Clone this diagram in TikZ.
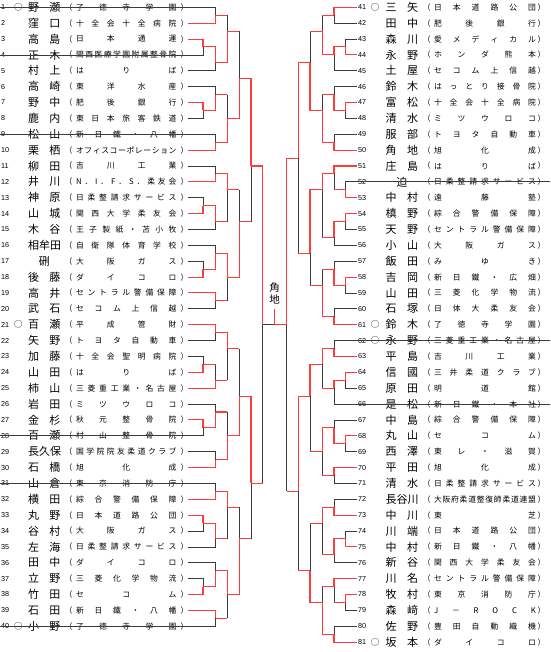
\documentclass[tikz,border=0pt]{standalone}
\usepackage{fontspec}
\setmainfont{Noto Sans CJK JP}
\newfontfamily\numfont{Liberation Sans}
\pgfdeclarelayer{fg}
\pgfsetlayers{main,fg}
\definecolor{wincol}{RGB}{255,60,60}
\definecolor{losecol}{RGB}{60,60,60}
\def\sprd#1#2\relax{#1\ifx\relax#2\relax\else\hfill\sprd#2\relax\fi}
\tikzset{
  wl/.style={draw=wincol,line width=1.05pt},
  ll/.style={draw=losecol,line width=0.75pt},
  numsty/.style={font=\numfont\fontsize{7.2}{8}\selectfont,anchor=west,inner sep=0pt},
  marksty/.style={font=\fontsize{8.5}{9}\selectfont,inner sep=0pt},
  namesty/.style={font=\fontsize{11}{12}\selectfont,inner sep=0pt},
  affsty/.style={font=\fontsize{7.8}{9}\selectfont,inner sep=0pt},
  parsty/.style={font=\fontsize{7.8}{9}\selectfont,inner sep=0pt,anchor=west},
}
\newcommand\Win[2]{\begin{pgfonlayer}{fg}\draw[wl] (#1) -- (#1 -| #2) -- (#2);\end{pgfonlayer}}
\newcommand\Lose[2]{\draw[ll] (#1) -- (#1 -| #2) -- (#2);}
\newcommand\MLose[2]{\begin{pgfonlayer}{fg}\draw[wl] (#1) -- (#1 -| #2);\end{pgfonlayer}\draw[ll] (#1 -| #2) -- (#2);}
\newcommand\Lrow[4]{%
  \node[numsty] (ln#1) at (1,{ry(#1)}) {#1};
  \node[marksty] (lm#1) at (18.3,{ry(#1)}) {#2};
  \node[namesty] (lnm#1) at (44.25,{ry(#1)}) {\hbox to 32.5pt{\sprd#3\relax}};
  \node[parsty] (lpo#1) at (64.4,{ry(#1)}) {（};
  \node[affsty] (laf#1) at (126.25,{ry(#1)}) {\hbox to 100.5pt{\sprd#4\relax}};
  \node[parsty] (lpc#1) at (180.3,{ry(#1)}) {）};
}
\newcommand\Rrow[5]{%
  \node[numsty] (rn#1) at (358,{ry(#2)}) {#1};
  \node[marksty] (rm#1) at (375,{ry(#2)}) {#3};
  \node[namesty] (rnm#1) at (401.75,{ry(#2)}) {\hbox to 32.5pt{\sprd#4\relax}};
  \node[parsty] (rpo#1) at (422.7,{ry(#2)}) {（};
  \node[affsty] (raf#1) at (485,{ry(#2)}) {\hbox to 102pt{\sprd#5\relax}};
  \node[parsty] (rpc#1) at (537.3,{ry(#2)}) {）};
}
\def\xLz{203}\def\xLa{215.5}\def\xLb{227.3}\def\xLc{239.3}\def\xLd{251}\def\xLe{262.7}\def\xC{274.5}
\def\xRe{286.7}\def\xRd{298.3}\def\xRc{310}\def\xRb{322.3}\def\xRa{334}\def\xRz{345.7}
\begin{document}
\begin{tikzpicture}[x=1pt,y=-1pt,declare function={ry(\r)=7.3+(\r-1)*15.87;}]
\useasboundingbox (0,0) rectangle (550,652);
\fill[white] (0,0) rectangle (550,652);
% ---------------- left entries
\Lrow{1}{○}{野瀬}{了徳寺学園}
\Lrow{2}{}{窪口}{十全会十全病院}
\Lrow{3}{}{高島}{日本通運}
\Lrow{4}{}{正木}{関西医療学園附属整骨院}
\Lrow{5}{}{村上}{はりば}
\Lrow{6}{}{高崎}{東洋水産}
\Lrow{7}{}{野中}{肥後銀行}
\Lrow{8}{}{鹿内}{東日本旅客鉄道}
\Lrow{9}{}{松山}{新日鐵・八幡}
\Lrow{10}{}{栗栖}{オフィスコーポレーション}
\Lrow{11}{}{柳田}{吉川工業}
\Lrow{12}{}{井川}{N．I．F．S．柔友会}
\Lrow{13}{}{神原}{日柔整請求サービス}
\Lrow{14}{}{山城}{関西大学柔友会}
\Lrow{15}{}{木谷}{王子製紙・苫小牧}
\Lrow{16}{}{相牟田}{自衛隊体育学校}
\Lrow{17}{}{\hfill 硎\hfill}{大阪ガス}
\Lrow{18}{}{後藤}{ダイコロ}
\Lrow{19}{}{高井}{セントラル警備保障}
\Lrow{20}{}{武石}{セコム上信越}
\Lrow{21}{○}{百瀬}{平成管財}
\Lrow{22}{}{矢野}{トヨタ自動車}
\Lrow{23}{}{加藤}{十全会聖明病院}
\Lrow{24}{}{山田}{はりば}
\Lrow{25}{}{柿山}{三菱重工業・名古屋}
\Lrow{26}{}{岩田}{ミツウロコ}
\Lrow{27}{}{金杉}{秋元整骨院}
\Lrow{28}{}{百瀬}{村山整骨院}
\Lrow{29}{}{長久保}{国学院院友柔道クラブ}
\Lrow{30}{}{石橋}{旭化成}
\Lrow{31}{}{山倉}{東京消防庁}
\Lrow{32}{}{横田}{綜合警備保障}
\Lrow{33}{}{丸野}{日本道路公団}
\Lrow{34}{}{谷村}{大阪ガス}
\Lrow{35}{}{左海}{日柔整請求サービス}
\Lrow{36}{}{田中}{ダイコロ}
\Lrow{37}{}{立野}{三菱化学物流}
\Lrow{38}{}{竹田}{セコム}
\Lrow{39}{}{石田}{新日鐵・八幡}
\Lrow{40}{○}{小野}{了徳寺学園}
% ---------------- right entries
\Rrow{41}{1}{○}{三矢}{日本道路公団}
\Rrow{42}{2}{}{田中}{肥後銀行}
\Rrow{43}{3}{}{森川}{愛メディカル}
\Rrow{44}{4}{}{永野}{ホンダ熊本}
\Rrow{45}{5}{}{土屋}{セコム上信越}
\Rrow{46}{6}{}{鈴木}{はっとり接骨院}
\Rrow{47}{7}{}{富松}{十全会十全病院}
\Rrow{48}{8}{}{清水}{ミツウロコ}
\Rrow{49}{9}{}{服部}{トヨタ自動車}
\Rrow{50}{10}{}{角地}{旭化成}
\Rrow{51}{11}{}{庄島}{はりば}
\Rrow{52}{12}{}{\hfill 迫\hfill}{日柔整請求サービス}
\Rrow{53}{13}{}{中村}{遠藤塾}
\Rrow{54}{14}{}{槙野}{綜合警備保障}
\Rrow{55}{15}{}{天野}{セントラル警備保障}
\Rrow{56}{16}{}{小山}{大阪ガス}
\Rrow{57}{17}{}{飯田}{みゆき}
\Rrow{58}{18}{}{吉岡}{新日鐵・広畑}
\Rrow{59}{19}{}{山田}{三菱化学物流}
\Rrow{60}{20}{}{石塚}{日体大柔友会}
\Rrow{61}{21}{○}{鈴木}{了徳寺学園}
\Rrow{62}{22}{○}{永野}{三菱重工業・名古屋}
\Rrow{63}{23}{}{平島}{吉川工業}
\Rrow{64}{24}{}{信國}{三井柔道クラブ}
\Rrow{65}{25}{}{原田}{明道館}
\Rrow{66}{26}{}{是松}{新日鐵・本社}
\Rrow{67}{27}{}{中島}{綜合警備保障}
\Rrow{68}{28}{}{丸山}{セコム}
\Rrow{69}{29}{}{西澤}{東レ・滋賀}
\Rrow{70}{30}{}{平田}{旭化成}
\Rrow{71}{31}{}{清水}{日柔整請求サービス}
\Rrow{72}{32}{}{長谷川}{大阪府柔道整復師柔道連盟}
\Rrow{73}{33}{}{中川}{東芝}
\Rrow{74}{34}{}{川端}{日本道路公団}
\Rrow{75}{35}{}{中村}{新日鐵・八幡}
\Rrow{76}{36}{}{新谷}{関西大学柔友会}
\Rrow{77}{37}{}{川名}{セントラル警備保障}
\Rrow{78}{38}{}{牧村}{東京消防庁}
\Rrow{79}{39}{}{森﨑}{J－ROCK}
\Rrow{80}{40}{}{佐野}{豊田自動織機}
\Rrow{81}{41}{○}{坂本}{ダイコロ}
% ---------------- leaf coordinates
\foreach \i in {1,...,40} \coordinate (a\i) at (188,{ry(\i)});
\foreach \i in {1,4,9,28,31,40} \coordinate (a\i) at (0,{ry(\i)});
\foreach \k in {41,...,81} \coordinate (b\k) at (357,{ry(\k-40)});
\foreach \k in {52,62,66} \coordinate (b\k) at (550,{ry(\k-40)});
% ---------------- left bracket
\coordinate (g1A) at (\xLa,{ry(1.5)});\coordinate (g1B) at (\xLz,{ry(3.5)});
\coordinate (g1C) at (\xLa,{ry(4.5)});\coordinate (g1D) at (\xLb,{ry(2.5)});
\Lose{a1}{g1A}\Win{a2}{g1A}\Win{a3}{g1B}\Lose{a4}{g1B}\Win{g1B}{g1C}\Lose{a5}{g1C}\MLose{g1A}{g1D}\Win{g1C}{g1D}
\coordinate (g2E) at (\xLz,{ry(7.5)});\coordinate (g2F) at (\xLa,{ry(6.5)});
\coordinate (g2G) at (\xLa,{ry(9.5)});\coordinate (g2H) at (\xLb,{ry(8)});
\Lose{a6}{g2F}\Win{a7}{g2E}\Lose{a8}{g2E}\Win{g2E}{g2F}\Lose{a9}{g2G}\Win{a10}{g2G}\MLose{g2F}{g2H}\Win{g2G}{g2H}
\coordinate (i12) at (\xLc,{ry(5.5)});
\MLose{g1D}{i12}\Win{g2H}{i12}
\coordinate (g3A) at (\xLa,{ry(11.5)});\coordinate (g3B) at (\xLz,{ry(13.5)});
\coordinate (g3C) at (\xLa,{ry(14.5)});\coordinate (g3D) at (\xLb,{ry(12.5)});
\Lose{a11}{g3A}\Win{a12}{g3A}\Lose{a13}{g3B}\Win{a14}{g3B}\Win{g3B}{g3C}\Lose{a15}{g3C}\Win{g3A}{g3D}\MLose{g3C}{g3D}
\coordinate (g4E) at (\xLz,{ry(17.5)});\coordinate (g4F) at (\xLa,{ry(16.5)});
\coordinate (g4G) at (\xLa,{ry(19.5)});\coordinate (g4H) at (\xLb,{ry(18)});
\Lose{a16}{g4F}\Lose{a17}{g4E}\Win{a18}{g4E}\Win{g4E}{g4F}\Win{a19}{g4G}\Lose{a20}{g4G}\Win{g4F}{g4H}\MLose{g4G}{g4H}
\coordinate (i34) at (\xLc,{ry(14.5)});
\MLose{g3D}{i34}\Win{g4H}{i34}
\coordinate (j14) at (\xLd,{ry(11)});
\Win{i12}{j14}\MLose{i34}{j14}
\coordinate (g5A) at (\xLa,{ry(21.5)});\coordinate (g5B) at (\xLz,{ry(23.5)});
\coordinate (g5C) at (\xLa,{ry(24.5)});\coordinate (g5D) at (\xLb,{ry(22.5)});
\Win{a21}{g5A}\Lose{a22}{g5A}\Lose{a23}{g5B}\Win{a24}{g5B}\MLose{g5B}{g5C}\Win{a25}{g5C}\Win{g5A}{g5D}\MLose{g5C}{g5D}
\coordinate (g6E) at (\xLz,{ry(27.5)});\coordinate (g6F) at (\xLa,{ry(26.5)});
\coordinate (g6G) at (\xLa,{ry(29.5)});\coordinate (g6H) at (\xLb,{ry(28)});
\Lose{a26}{g6F}\Win{a27}{g6E}\Lose{a28}{g6E}\Win{g6E}{g6F}\Lose{a29}{g6G}\Win{a30}{g6G}\MLose{g6F}{g6H}\Win{g6G}{g6H}
\coordinate (i56) at (\xLc,{ry(25.5)});
\MLose{g5D}{i56}\Win{g6H}{i56}
\coordinate (g7A) at (\xLa,{ry(31.5)});\coordinate (g7B) at (\xLz,{ry(33.5)});
\coordinate (g7C) at (\xLa,{ry(34.5)});\coordinate (g7D) at (\xLb,{ry(32.5)});
\Lose{a31}{g7A}\Win{a32}{g7A}\Win{a33}{g7B}\Lose{a34}{g7B}\Win{g7B}{g7C}\Lose{a35}{g7C}\Win{g7A}{g7D}\MLose{g7C}{g7D}
\coordinate (g8E) at (\xLz,{ry(37.5)});\coordinate (g8F) at (\xLa,{ry(36.5)});
\coordinate (g8G) at (\xLa,{ry(39.5)});\coordinate (g8H) at (\xLb,{ry(38)});
\Lose{a36}{g8F}\Lose{a37}{g8E}\Win{a38}{g8E}\Win{g8E}{g8F}\Win{a39}{g8G}\Lose{a40}{g8G}\Win{g8F}{g8H}\MLose{g8G}{g8H}
\coordinate (i78) at (\xLc,{ry(34.5)});
\MLose{g7D}{i78}\Win{g8H}{i78}
\coordinate (j58) at (\xLd,{ry(31)});
\Win{i56}{j58}\MLose{i78}{j58}
\coordinate (sL) at (\xLe,{ry(21)});
\Win{j14}{sL}\MLose{j58}{sL}
% ---------------- right bracket
\coordinate (h1A) at (\xRa,{ry(1.5)});\coordinate (h1B) at (\xRz,{ry(3.5)});
\coordinate (h1C) at (\xRa,{ry(4)});\coordinate (h1D) at (\xRb,{ry(2.5)});
\Win{b41}{h1A}\Lose{b42}{h1A}\Lose{b43}{h1B}\Win{b44}{h1B}\Win{h1B}{h1C}\Lose{b45}{h1C}\MLose{h1A}{h1D}\Win{h1C}{h1D}
\coordinate (h2E) at (\xRz,{ry(7.5)});\coordinate (h2F) at (\xRa,{ry(6.5)});
\coordinate (h2G) at (\xRa,{ry(9.5)});\coordinate (h2H) at (\xRb,{ry(7.5)});
\Lose{b46}{h2F}\Win{b47}{h2E}\Lose{b48}{h2E}\Win{h2E}{h2F}\Lose{b49}{h2G}\Win{b50}{h2G}\MLose{h2F}{h2H}\Win{h2G}{h2H}
\coordinate (r3a) at (\xRc,{ry(4.5)});
\MLose{h1D}{r3a}\Win{h2H}{r3a}
\coordinate (h3E) at (\xRz,{ry(12.5)});\coordinate (h3F) at (\xRa,{ry(11.5)});
\coordinate (h3B) at (\xRz,{ry(14.5)});\coordinate (h3C) at (\xRa,{ry(15.5)});
\coordinate (h3D) at (\xRb,{ry(12.5)});
\Win{b51}{h3F}\Lose{b52}{h3E}\Win{b53}{h3E}\MLose{h3E}{h3F}\Win{b54}{h3B}\Lose{b55}{h3B}\Win{h3B}{h3C}\Lose{b56}{h3C}\Win{h3F}{h3D}\MLose{h3C}{h3D}
\coordinate (h4E) at (\xRz,{ry(18.5)});\coordinate (h4F) at (\xRa,{ry(17.5)});
\coordinate (h4G) at (\xRa,{ry(20.5)});\coordinate (h4H) at (\xRb,{ry(18.5)});
\Lose{b57}{h4F}\Win{b58}{h4E}\Lose{b59}{h4E}\Win{h4E}{h4F}\Lose{b60}{h4G}\Win{b61}{h4G}\MLose{h4F}{h4H}\Win{h4G}{h4H}
\coordinate (r3b) at (\xRc,{ry(16.5)});
\Win{h3D}{r3b}\MLose{h4H}{r3b}
\coordinate (r4a) at (\xRd,{ry(10.5)});
\Win{r3a}{r4a}\MLose{r3b}{r4a}
\coordinate (h5A) at (\xRa,{ry(22.5)});\coordinate (h5B) at (\xRz,{ry(24.5)});
\coordinate (h5C) at (\xRa,{ry(25)});\coordinate (h5D) at (\xRb,{ry(23.5)});
\Lose{b62}{h5A}\Win{b63}{h5A}\Win{b64}{h5B}\Lose{b65}{h5B}\Win{h5B}{h5C}\Lose{b66}{h5C}\Win{h5A}{h5D}\MLose{h5C}{h5D}
\coordinate (h6E) at (\xRz,{ry(28.5)});\coordinate (h6F) at (\xRa,{ry(27.5)});
\coordinate (h6G) at (\xRa,{ry(30.5)});\coordinate (h6H) at (\xRb,{ry(29)});
\Lose{b67}{h6F}\Win{b68}{h6E}\Lose{b69}{h6E}\Win{h6E}{h6F}\Win{b70}{h6G}\Lose{b71}{h6G}\Win{h6F}{h6H}\MLose{h6G}{h6H}
\coordinate (r3c) at (\xRc,{ry(25.5)});
\Win{h5D}{r3c}\MLose{h6H}{r3c}
\coordinate (h7A) at (\xRa,{ry(32.5)});\coordinate (h7B) at (\xRz,{ry(34.5)});
\coordinate (h7C) at (\xRa,{ry(35.5)});\coordinate (h7D) at (\xRb,{ry(33.5)});
\Lose{b72}{h7A}\Win{b73}{h7A}\Lose{b74}{h7B}\Win{b75}{h7B}\Win{h7B}{h7C}\Lose{b76}{h7C}\Win{h7A}{h7D}\MLose{h7C}{h7D}
\coordinate (h8E) at (\xRz,{ry(38.5)});\coordinate (h8F) at (\xRa,{ry(37.5)});
\coordinate (h8G) at (\xRa,{ry(40.5)});\coordinate (h8H) at (\xRb,{ry(38.5)});
\Win{b77}{h8F}\Win{b78}{h8E}\Lose{b79}{h8E}\MLose{h8E}{h8F}\Lose{b80}{h8G}\Win{b81}{h8G}\MLose{h8F}{h8H}\Win{h8G}{h8H}
\coordinate (r3d) at (\xRc,{ry(36.5)});
\MLose{h7D}{r3d}\Win{h8H}{r3d}
\coordinate (r4b) at (\xRd,{ry(31.5)});
\Win{r3c}{r4b}\MLose{r3d}{r4b}
\coordinate (sR) at (\xRe,{ry(21)});
\Win{r4a}{sR}\MLose{r4b}{sR}
% ---------------- final
\coordinate (fin) at (\xC,{ry(21)});
\coordinate (champ) at (\xC,309.3);
\draw[ll] (sL) -- (fin);
\begin{pgfonlayer}{fg}\draw[wl] (sR) -- (fin) -- (champ);\end{pgfonlayer}
\node[font=\fontsize{10.5}{11}\selectfont,inner sep=0pt] (wn1) at (\xC,287.5) {角};
\node[font=\fontsize{10.5}{11}\selectfont,inner sep=0pt] (wn2) at (\xC,299.8) {地};
\end{tikzpicture}
\end{document}
